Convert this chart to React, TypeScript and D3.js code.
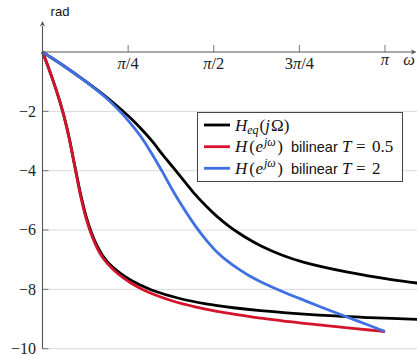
import React from 'react';
import * as d3 from 'd3';

const W = 417;
const H = 356;

// ---- data ----
// H_eq(jΩ) evaluated at Ω = ω/T with T = 0.5
const heqFastOmega = [0, 0.05, 0.1, 0.15, 0.185, 0.2, 0.225, 0.25, 0.275, 0.3, 0.35, 0.4, 0.45, 0.5, 0.55, 0.6, 0.7, 0.8, 0.9, 1.0, 1.25, 1.5, 1.75, 2.0, 2.5, 3.0, 3.5];
const heqFastPhase = [0, -0.48, -1.0, -1.56, -2.0, -2.2, -2.57, -2.98, -3.45, -3.9, -4.8, -5.54, -6.1, -6.53, -6.85, -7.09, -7.42, -7.67, -7.86, -8.02, -8.3, -8.49, -8.62, -8.72, -8.86, -8.95, -9.02];

// H_eq(jΩ) evaluated at Ω = ω/T with T = 2
const heqSlowOmega = [0, 0.2, 0.4, 0.6, 0.74, 0.8, 0.9, 1.0, 1.1, 1.2, 1.3, 1.4, 1.5, 1.6, 1.7, 1.8, 1.9, 2.0, 2.2, 2.4, 2.8, 3.2, 3.6];
const heqSlowPhase = [0, -0.48, -1.0, -1.56, -2.0, -2.2, -2.57, -2.98, -3.45, -3.9, -4.35, -4.8, -5.19, -5.54, -5.84, -6.1, -6.33, -6.53, -6.85, -7.09, -7.42, -7.67, -7.86];

// bilinear, T = 0.5
const bilin05Omega = [0, 0.05, 0.1, 0.15, 0.2, 0.25, 0.3, 0.35, 0.4, 0.45, 0.5, 0.55, 0.6, 0.7, 0.8, 0.9, 1.0, 1.2, 1.4, 1.6, 1.8, 2.0, 2.2, 2.4, 2.6, 2.8, 3.0, Math.PI];
const bilin05Phase = [0, -0.48, -1.0, -1.56, -2.21, -3.01, -3.94, -4.86, -5.61, -6.17, -6.6, -6.92, -7.15, -7.5, -7.76, -7.97, -8.14, -8.4, -8.59, -8.74, -8.86, -8.97, -9.06, -9.15, -9.22, -9.3, -9.37, -9.42];

// bilinear, T = 2
const bilin2Omega = [0, 0.2, 0.4, 0.6, 0.7, 0.8, 0.9, 1.0, 1.1, 1.2, 1.3, 1.4, 1.5, 1.6, 1.7, 1.8, 1.9, 2.0, 2.2, 2.4, 2.6, 2.8, 3.0, 3.1, Math.PI];
const bilin2Phase = [0, -0.48, -1.01, -1.6, -1.96, -2.37, -2.84, -3.41, -4.04, -4.7, -5.3, -5.85, -6.33, -6.74, -7.06, -7.32, -7.55, -7.74, -8.07, -8.37, -8.66, -8.94, -9.22, -9.36, -9.42];

const xTickValues = [Math.PI / 4, Math.PI / 2, (3 * Math.PI) / 4, Math.PI];
const xTickPrefix = ['', '', '3', ''];
const xTickSuffix = ['/4', '/2', '/4', ''];
const yTickValues = [-2, -4, -6, -8, -10];
const legendSuffix = ['0.5', '2'];

const COLORS = { black: '#000000', red: '#d3142b', blue: '#3f70e4' };
const AXIS = '#555555';
const SERIF = "'Liberation Serif', 'Times New Roman', serif";
const SANS = "'Liberation Sans', Arial, sans-serif";

export default function App() {
  const x = d3.scaleLinear().domain([0, Math.PI]).range([42.5, 385]);
  const y = d3.scaleLinear().domain([0, -10]).range([52, 348.7]);

  const line = d3
    .line<[number, number]>()
    .x((d) => x(d[0]))
    .y((d) => y(d[1]))
    .curve(d3.curveCatmullRom.alpha(0.5));

  const zip = (a: number[], b: number[]) => a.map((v, i) => [v, b[i]] as [number, number]);

  const series = [
    { data: zip(heqSlowOmega, heqSlowPhase), color: COLORS.black },
    { data: zip(heqFastOmega, heqFastPhase), color: COLORS.black },
    { data: zip(bilin05Omega, bilin05Phase), color: COLORS.red },
    { data: zip(bilin2Omega, bilin2Phase), color: COLORS.blue },
  ];

  const x0 = x(0);
  const y0 = y(0);
  const yBottom = y(-10);

  const legendX = 197.5;
  const legendY = 112.5;
  const legendW = 205;
  const legendH = 69;
  const rowY = [125, 146.7, 168.3];
  const legendColors = [COLORS.black, COLORS.red, COLORS.blue];
  const LF = 17;

  return (
    <svg
      width={W}
      height={H}
      style={{ position: 'absolute', left: 0, top: 0, background: '#fff' }}
    >
      <defs>
        <clipPath id="plotclip">
          <rect x={0} y={0} width={W} height={H} />
        </clipPath>
      </defs>
      {/* grid lines */}
      {yTickValues.map((v) => (
        <line key={'g' + v} x1={x0} x2={W} y1={y(v)} y2={y(v)} stroke="#d9d9d9" strokeWidth={1} />
      ))}
      {/* y tick marks */}
      {yTickValues.map((v) => (
        <line key={'yt' + v} x1={x0} x2={x0 + 6} y1={y(v)} y2={y(v)} stroke={AXIS} strokeWidth={0.8} />
      ))}
      {/* y tick labels */}
      {yTickValues.map((v) => (
        <text
          key={'yl' + v}
          x={36}
          y={y(v)}
          dy="0.33em"
          textAnchor="end"
          fontFamily={SERIF}
          fontSize={16}
          fill="#222"
        >
          {'\u2212' + Math.abs(v)}
        </text>
      ))}

      {/* curves */}
      <g clipPath="url(#plotclip)">
        {series.map((s, i) => (
          <path
            key={'s' + i}
            d={line(s.data) || ''}
            fill="none"
            stroke={s.color}
            strokeWidth={2.8}
            strokeLinejoin="round"
          />
        ))}
      </g>

      {/* axes */}
      <line x1={x0} x2={W - 4} y1={y0} y2={y0} stroke={AXIS} strokeWidth={1.1} />
      <path d={`M${W - 0.5},${y0} L${W - 6},${y0 - 2.6} L${W - 4.5},${y0} L${W - 6},${y0 + 2.6} Z`} fill={AXIS} />
      <line x1={x0} x2={x0} y1={yBottom} y2={26} stroke={AXIS} strokeWidth={1.1} />
      <path d={`M${x0},${21} L${x0 - 2.6},${26.5} L${x0},${25} L${x0 + 2.6},${26.5} Z`} fill={AXIS} />

      {/* x tick marks & labels */}
      {xTickValues.map((v, i) => (
        <g key={'xt' + i}>
          <line x1={x(v)} x2={x(v)} y1={y0 - 7} y2={y0} stroke={AXIS} strokeWidth={0.8} />
          <text
            x={x(v)}
            y={i === 3 ? 64.5 : 68.5}
            textAnchor="middle"
            fontFamily={SERIF}
            fontSize={16.5}
            fill="#222"
          >
            {xTickPrefix[i]}
            <tspan fontStyle="italic">π</tspan>
            {xTickSuffix[i]}
          </text>
        </g>
      ))}
      <text x={409} y={64.5} textAnchor="middle" fontFamily={SERIF} fontStyle="italic" fontSize={16.5} fill="#222">
        ω
      </text>
      <text x={60} y={16} textAnchor="middle" fontFamily={SANS} fontSize={13} fill="#111">
        rad
      </text>

      {/* legend */}
      <rect x={legendX} y={legendY} width={legendW} height={legendH} fill="#fff" stroke="#444" strokeWidth={1} />
      {legendColors.map((c, i) => (
        <line key={'ll' + i} x1={204} x2={230} y1={rowY[i]} y2={rowY[i]} stroke={c} strokeWidth={2.8} />
      ))}
      <text x={235} y={rowY[0] + 5.5} fontFamily={SERIF} fontSize={LF} fill="#111">
        <tspan fontStyle="italic">H</tspan>
        <tspan fontStyle="italic" fontSize={12} dy={3.5}>eq</tspan>
        <tspan dy={-3.5} dx={1}>(</tspan>
        <tspan fontStyle="italic">j</tspan>
        <tspan dx={1}>Ω)</tspan>
      </text>
      {legendSuffix.map((s, k) => (
        <text key={'lt' + k} x={235} y={rowY[k + 1] + 5.5} fontFamily={SERIF} fontSize={LF} fill="#111">
          <tspan fontStyle="italic">H</tspan>
          <tspan dx={2}>(</tspan>
          <tspan fontStyle="italic" dx={0.5}>e</tspan>
          <tspan fontStyle="italic" fontSize={12} dy={-6.5} dx={1}>jω</tspan>
          <tspan dy={6.5} dx={1.5}>)</tspan>
          <tspan x={291} fontFamily={SANS} fontSize={14.5}>bilinear</tspan>
          <tspan x={342} fontStyle="italic">T</tspan>
          <tspan x={356}>=</tspan>
          <tspan x={372}>{s}</tspan>
        </text>
      ))}
    </svg>
  );
}
